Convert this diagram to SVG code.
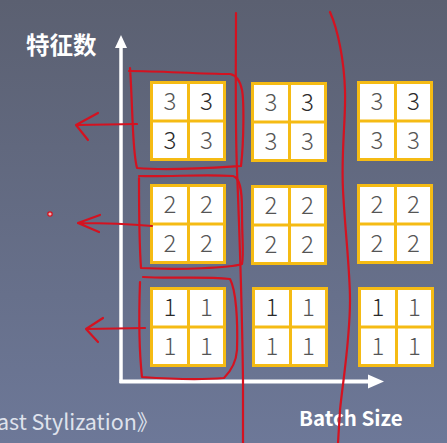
<svg xmlns="http://www.w3.org/2000/svg" xmlns:xlink="http://www.w3.org/1999/xlink" width="447" height="443" viewBox="0 0 447 443">
<defs>
<linearGradient id="bg" x1="0" y1="0" x2="0" y2="1">
<stop offset="0" stop-color="#5b6071"/>
<stop offset="1" stop-color="#6d7898"/>
</linearGradient>
<g id="frame">
<rect x="0" y="0" width="76" height="80" fill="#f5bb14"/>
<rect x="3" y="3" width="34" height="35.5" fill="#ffffff"/>
<rect x="40" y="3" width="33" height="35.5" fill="#ffffff"/>
<rect x="3" y="41.5" width="34" height="35.5" fill="#ffffff"/>
<rect x="40" y="41.5" width="33" height="35.5" fill="#ffffff"/>
</g>
</defs>
<style>
.d{font-family:"Noto Sans CJK SC","Noto Sans",sans-serif;font-size:24px;font-weight:300;text-anchor:middle;fill:#555}
.k{fill:#2a2a2a}
.w{font-family:"Noto Sans CJK SC","Noto Sans",sans-serif;fill:#ffffff;font-weight:bold}
.t{font-family:"Noto Sans CJK SC","Noto Sans",sans-serif;font-size:21.5px;fill:#dfe2ec}
.r{fill:none;stroke:#d41220;stroke-width:2.2;stroke-linecap:round;stroke-linejoin:round}
.ax{stroke:#ffffff;fill:none}
</style>
<rect width="447" height="443" fill="url(#bg)"/>

<g id="axes">
<line class="ax" x1="121" y1="46" x2="121" y2="383" stroke-width="3.5"/>
<polygon points="121,35 115,48 127,48" fill="#ffffff"/>
<line class="ax" x1="119.5" y1="381.5" x2="370" y2="381.5" stroke-width="4"/>
<polygon points="384,381.5 368,374.5 368,388.5" fill="#ffffff"/>
</g>

<text class="w" x="26" y="54" font-size="23.5">特征数</text>
<text class="w" x="299" y="426" font-size="20.5">Batch Size</text>
<text class="t" x="-3" y="430">ast Stylization》</text>

<g id="g31"><use xlink:href="#frame" x="150" y="81"/>
<text class="d" x="170" y="109.5">3</text><text class="d k" x="206.5" y="109.5">3</text>
<text class="d k" x="170" y="148.5">3</text><text class="d" x="206.5" y="148.5">3</text></g>
<g id="g32"><use xlink:href="#frame" x="251" y="82"/>
<text class="d" x="271" y="110.5">3</text><text class="d k" x="307.5" y="110.5">3</text>
<text class="d" x="271" y="149.5">3</text><text class="d" x="307.5" y="149.5">3</text></g>
<g id="g33"><use xlink:href="#frame" x="357" y="81"/>
<text class="d" x="377" y="109.5">3</text><text class="d k" x="413.5" y="109.5">3</text>
<text class="d" x="377" y="148.5">3</text><text class="d" x="413.5" y="148.5">3</text></g>

<g id="g21"><use xlink:href="#frame" x="150" y="184"/>
<text class="d" x="170" y="212.5">2</text><text class="d" x="206.5" y="212.5">2</text>
<text class="d" x="170" y="251.5">2</text><text class="d" x="206.5" y="251.5">2</text></g>
<g id="g22"><use xlink:href="#frame" x="251" y="185"/>
<text class="d" x="271" y="213.5">2</text><text class="d" x="307.5" y="213.5">2</text>
<text class="d" x="271" y="252.5">2</text><text class="d" x="307.5" y="252.5">2</text></g>
<g id="g23"><use xlink:href="#frame" x="357" y="184"/>
<text class="d" x="377" y="212.5">2</text><text class="d" x="413.5" y="212.5">2</text>
<text class="d" x="377" y="251.5">2</text><text class="d" x="413.5" y="251.5">2</text></g>

<g id="g11"><use xlink:href="#frame" x="150" y="287"/>
<text class="d k" x="170" y="315.5">1</text><text class="d" x="206.5" y="315.5">1</text>
<text class="d" x="170" y="354.5">1</text><text class="d" x="206.5" y="354.5">1</text></g>
<g id="g12"><use xlink:href="#frame" x="252" y="287"/>
<text class="d k" x="272" y="315.5">1</text><text class="d" x="308.5" y="315.5">1</text>
<text class="d" x="272" y="354.5">1</text><text class="d" x="308.5" y="354.5">1</text></g>
<g id="g13"><use xlink:href="#frame" x="358" y="287"/>
<text class="d k" x="378" y="315.5">1</text><text class="d" x="414.5" y="315.5">1</text>
<text class="d" x="378" y="354.5">1</text><text class="d" x="414.5" y="354.5">1</text></g>

<g id="annotations">
<path class="r" d="M236,13 C236,60 235,120 237,170 C239,220 242,300 243,380 L243,443"/>
<path class="r" d="M330,12 C338,30 344,60 345,90 C346,120 341,150 343,190 C345,230 350,270 350,300 C350,340 343,380 340,410 L338,443"/>
<path class="r" d="M130,68 C131,80 132,110 133,130 C134,150 135,160 137,168 C170,171 210,168 241,166 C244,140 244,100 242,90 C240,80 236,75 230,74 C200,74 160,71 129,71"/>
<path class="r" d="M139,176 C170,177 200,174 233,176 C240,178 242,190 242,210 C242,240 244,255 242,264 C230,268 180,270 141,268 C139,240 139,200 139,178"/>
<path class="r" d="M143,277 C170,279 200,276 230,279 C236,290 238,320 237,350 C236,364 230,372 224,378 C200,380 170,379 142,377 C139,350 139,310 140,282"/>
<path class="r" d="M137,124 L77,125 M98,113 L76,125 L88,140"/>
<path class="r" d="M152,226 C130,224 100,223 78,223 M100,215 L78,223 L99,232"/>
<path class="r" d="M145,328 L86,329 M103,318 L86,329 L98,342"/>
<circle cx="50" cy="214" r="2.2" fill="#f4b0b0" stroke="#d41220" stroke-width="1.2"/>
</g>
</svg>
